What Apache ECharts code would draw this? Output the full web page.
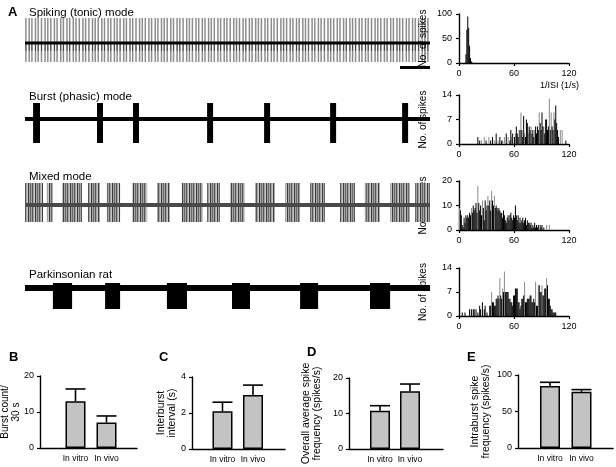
<!DOCTYPE html>
<html><head><meta charset="utf-8">
<script src="https://cdn.jsdelivr.net/npm/echarts@6.0.0/dist/echarts.min.js"></script>
<style>html,body{margin:0;padding:0;background:#fff}#c{width:616px;height:467px}</style>
</head><body><div id="c"></div>
<script>
const FONT = '"Liberation Sans", Arial, Helvetica, sans-serif';

// ---------- Panel A: traces (time in s, 1 s scale bar) ----------
const tonicSpikes = [0.03,0.14,0.23,0.35,0.44,0.55,0.67,0.76,0.86,0.98,1.07,1.19,1.28,1.40,1.49,1.61,1.70,1.81,1.93,2.02,2.13,2.25,2.34,2.44,2.56,2.65,2.77,2.86,2.98,3.07,3.17,3.29,3.38,3.50,3.59,3.70,3.82,3.91,4.01,4.13,4.22,4.34,4.43,4.55,4.64,4.74,4.86,4.95,5.07,5.16,5.27,5.39,5.48,5.58,5.70,5.79,5.91,6.00,6.12,6.21,6.31,6.43,6.52,6.64,6.73,6.84,6.96,7.05,7.15,7.27,7.36,7.48,7.57,7.69,7.78,7.88,8.00,8.09,8.21,8.30,8.41,8.53,8.62,8.72,8.84,8.93,9.05,9.14,9.26,9.35,9.45,9.57,9.66,9.78,9.87,9.98,10.10,10.19,10.29,10.41,10.50,10.62,10.71,10.83,10.92,11.02,11.14,11.23,11.35,11.44,11.55,11.67,11.76,11.86,11.98,12.07,12.19,12.28,12.40,12.49,12.59,12.71,12.80,12.92,13.01,13.12,13.24,13.33,13.43];
const burstEpisodes = [[0.27,0.5],[2.4,2.6],[3.6,3.8],[6.07,6.27],[7.97,8.17],[10.17,10.37],[12.57,12.77]];
const mixedEpisodes = [[0,0.6],[0.73,0.93],[1.23,1.9],[2.1,2.5],[2.73,3.17],[3.57,4.07],[4.4,4.83],[5.23,5.93],[6.07,6.5],[6.83,7.33],[7.67,8.33],[8.67,9.17],[9.5,10],[10.5,11],[11.33,11.83],[12.17,12.83],[13,13.5]];
const parkEpisodes = [[0.93,1.57],[2.67,3.17],[4.73,5.4],[6.9,7.5],[9.17,9.77],[11.5,12.17]];
const traceSpan = [0, 13.5];
const scaleBar = [12.5, 13.5];
const traceTitles = ['Spiking (tonic) mode','Burst (phasic) mode','Mixed mode','Parkinsonian rat'];

// ---------- Panel A: 1/ISI histograms ([bin, count]) ----------
const histTicks = [0, 60, 120];
const histXName = '1/ISI (1/s)';
const histTonicBlack = [[7,18],[8,68],[9,95],[10,72],[11,35],[12,10],[13,3],[14,1]];
const histTonicGray = [[6,2]];
const histBurstBlack = [[20,2],[22,1],[29,1],[34,1],[36,2],[40,3],[44,2],[46,1],[51,3],[55,1],[56,4],[58,3],[60,2],[62,5],[63,3],[64,2],[66,4],[68,4],[69,2],[70,8],[72,2],[73,7],[74,6],[76,5],[77,4],[79,3],[80,4],[81,2],[83,5],[84,3],[85,5],[86,4],[88,6],[89,4],[90,9],[91,5],[93,3],[94,7],[95,7],[96,4],[97,5],[99,4],[101,5],[102,4],[104,7],[105,11],[106,6],[107,4],[108,2],[116,1]];
const histBurstGray = [[24,1],[27,2],[32,2],[38,1],[42,1],[47,1],[49,2],[53,2],[57,2],[61,3],[65,4],[67,9],[71,3],[75,3],[78,5],[82,4],[87,9],[92,5],[98,13],[100,9],[103,9],[110,4],[112,4]];
const histMixedBlack = [[1,8],[2,6],[3,2],[4,1],[5,5],[6,3],[7,6],[8,5],[9,6],[10,5],[11,7],[12,6],[14,7],[15,10],[16,8],[17,9],[18,11],[19,7],[21,11],[22,8],[23,10],[24,6],[26,9],[27,4],[28,12],[29,8],[30,10],[32,10],[33,12],[34,8],[36,12],[37,10],[39,9],[40,10],[41,9],[42,8],[43,9],[44,8],[45,7],[46,7],[47,5],[48,8],[49,6],[50,4],[51,3],[52,5],[53,6],[54,4],[55,6],[56,7],[57,5],[58,4],[59,6],[60,5],[61,10],[62,6],[63,4],[64,6],[65,3],[66,5],[67,3],[68,4],[69,5],[70,3],[71,4],[72,5],[73,2],[74,4],[75,3],[76,3],[77,2],[78,3],[79,1],[80,2],[81,1],[82,3],[83,1],[84,2],[85,1],[86,2],[88,2],[89,1],[90,2],[92,1]];
const histMixedGray = [[0,9],[13,9],[20,18],[25,12],[31,14],[35,16],[38,14],[95,2],[98,2]];
const histParkBlack = [[3,1],[6,1],[11,2],[13,2],[15,2],[16,2],[18,2],[20,1],[22,3],[23,2],[25,4],[27,2],[28,3],[30,1],[33,3],[34,3],[36,4],[37,4],[38,3],[39,3],[40,5],[41,5],[42,6],[43,5],[45,6],[46,5],[48,7],[50,7],[51,7],[52,7],[53,7],[54,5],[55,5],[56,4],[57,4],[58,3],[59,6],[60,6],[61,8],[62,8],[63,8],[64,4],[65,4],[66,2],[67,3],[68,5],[69,5],[70,6],[72,4],[73,4],[74,5],[75,5],[76,5],[77,6],[78,6],[79,4],[80,4],[81,5],[82,4],[84,3],[85,3],[87,9],[88,7],[89,7],[91,6],[92,6],[93,8],[94,8],[96,9],[97,5],[98,5],[99,3],[100,2],[101,2],[102,1],[103,1],[104,1],[105,1]];
const histParkGray = [[35,7],[44,11],[47,8],[49,13],[71,10],[83,10],[86,9],[90,9],[95,11]];
const histMax = [100, 14, 20, 14];
const histInterval = [50, 7, 10, 7];

// ---------- Panels B–E: bar charts ----------
const barCategories = ['In vitro', 'In vivo'];
const burstCount = [13.0, 7.1],   burstCountErr = [16.4, 8.9];
const interburst = [2.1, 3.0],    interburstErr = [2.6, 3.55];
const overallFreq = [10.8, 16.3], overallFreqErr = [12.2, 18.3];
const intraFreq = [85, 77],       intraFreqErr = [90, 80];

// ---------- layout ----------
const traceGrids = [
  {top:18, height:44, min:-19, max:25},
  {top:102, height:42, min:-25, max:17},
  {top:183, height:39, min:-17, max:22},
  {top:280, height:36, min:-28, max:8}
];
const histGrids = [{top:14,height:49},{top:95,height:49},{top:181,height:49},{top:268,height:48}];
const barPanels = [
  {left:40, width:97, top:376, height:72, xmin:-1.145, xmax:1.984, ymax:20, interval:10, vals:burstCount, errs:burstCountErr, name:'Burst count/\n30 s', gap:18, fs:10, letter:'B', lx:4, ly:346},
  {left:192, width:93, top:377, height:72, xmin:-1.0, xmax:2.05, ymax:4, interval:2, vals:interburst, errs:interburstErr, name:'Interburst\ninterval (s)', gap:14, fs:10.5, letter:'C', lx:154, ly:346},
  {left:349, width:94, top:378, height:71, xmin:-1.033, xmax:2.1, ymax:20, interval:10, vals:overallFreq, errs:overallFreqErr, name:'Overall average spike\nfrequency (spikes/s)', gap:26, fs:10.5, letter:'D', lx:302, ly:341},
  {left:518, width:95, top:375, height:73, xmin:-1.016, xmax:2.0, ymax:100, interval:50, vals:intraFreq, errs:intraFreqErr, name:'Intraburst spike\nfrequency (spikes/s)', gap:26, fs:10.5, letter:'E', lx:462, ly:346}
];

const grid = [], xAxis = [], yAxis = [], series = [], title = [];
const axisLine = {show:true, onZero:false, lineStyle:{color:'#000', width:1.4}};
const lbl = {color:'#000', fontFamily:FONT, fontSize:9};

function stripePattern(){
  const c = document.createElement('canvas'); c.width = 7; c.height = 4;
  const ctx = c.getContext('2d');
  ctx.fillStyle = '#a4a4a4'; ctx.fillRect(0,0,7,4);
  ctx.fillStyle = '#3c3c3c'; ctx.fillRect(0,0,1,4);
  ctx.fillStyle = '#6a6a6a'; ctx.fillRect(2,0,1,4);
  ctx.fillStyle = '#555555'; ctx.fillRect(4,0,1,4);
  ctx.fillStyle = '#c6c6c6'; ctx.fillRect(6,0,1,4);
  return {image:c, repeat:'repeat'};
}
const mixedFill = stripePattern();

title.push({text:'A', left:3, top:1, textStyle:{fontFamily:FONT, fontSize:13, fontWeight:'bold', color:'#000'}});
traceTitles.forEach((t,i)=>{
  const tops=[2,86,166,264];
  title.push({text:t, left:24, top:tops[i], textStyle:{fontFamily:FONT, fontSize:11.5, fontWeight:'normal', color:'#000'}});
});
title.push({text:histXName, left:535, top:76, textStyle:{fontFamily:FONT, fontSize:9, fontWeight:'normal', color:'#000'}});

function segRender(lo, hi, color, w){ return (params, api) => {
  const t = api.value(0); const a = api.coord([t, lo]), b = api.coord([t, hi]);
  return {type:'line', shape:{x1:a[0],y1:a[1],x2:b[0],y2:b[1]}, style:{stroke:color, lineWidth:w}};
};}
function episodeRender(lo, hi, fill){ return (params, api) => {
  const a = api.coord([api.value(0), hi]), b = api.coord([api.value(1), lo]);
  return {type:'rect', shape:{x:a[0], y:a[1], width:b[0]-a[0], height:b[1]-a[1]}, style:{fill:fill}};
};}
function histRender(color){ return (params, api) => {
  const bn = api.value(0), n = api.value(1);
  const p0 = api.coord([bn, 0]), p1 = api.coord([bn+1, n]);
  return {type:'rect', shape:{x:p0[0], y:p1[1], width:Math.max(p1[0]-p0[0],1), height:p0[1]-p1[1]}, style:{fill:color}};
};}
function errRender(params, api){
  const x = api.value(0), v = api.value(1), e = api.value(2);
  const p0 = api.coord([x, v]), p1 = api.coord([x, e]); const hw = 10;
  return {type:'group', children:[
    {type:'line', shape:{x1:p0[0],y1:p0[1],x2:p1[0],y2:p1[1]}, style:{stroke:'#000', lineWidth:1.6}},
    {type:'line', shape:{x1:p1[0]-hw,y1:p1[1],x2:p1[0]+hw,y2:p1[1]}, style:{stroke:'#000', lineWidth:1.6}}
  ]};
}

// traces
traceGrids.forEach((g,i)=>{
  grid.push({left:25, width:405, top:g.top, height:g.height, outerBoundsMode:'none'});
  xAxis.push({type:'value', gridIndex:i, min:traceSpan[0], max:traceSpan[1], show:false});
  yAxis.push({type:'value', gridIndex:i, min:g.min, max:g.max, show:false});
});
const baseLine = [[traceSpan[0],0],[traceSpan[1],0]];
// tonic
series.push({type:'custom', xAxisIndex:0, yAxisIndex:0, data:tonicSpikes.map(t=>[t]), renderItem:segRender(-19,25,'rgba(0,0,0,0.45)',1.5)});
series.push({type:'line', xAxisIndex:0, yAxisIndex:0, data:baseLine, symbol:'none', lineStyle:{color:'#000', width:3}});
series.push({type:'custom', xAxisIndex:0, yAxisIndex:0, data:tonicSpikes.map(t=>[t]), renderItem:segRender(-8,0,'rgba(0,0,0,0.55)',1)});
series.push({type:'line', xAxisIndex:0, yAxisIndex:0, data:[[scaleBar[0],-24.5],[scaleBar[1],-24.5]], symbol:'none', clip:false, lineStyle:{color:'#000', width:3}});
// burst
series.push({type:'line', xAxisIndex:1, yAxisIndex:1, data:baseLine, symbol:'none', lineStyle:{color:'#000', width:4}});
series.push({type:'custom', xAxisIndex:1, yAxisIndex:1, data:burstEpisodes, renderItem:episodeRender(-24,16,'#000')});
// mixed
series.push({type:'line', xAxisIndex:2, yAxisIndex:2, data:baseLine, symbol:'none', lineStyle:{color:'#4a4a4a', width:4}});
series.push({type:'custom', xAxisIndex:2, yAxisIndex:2, data:mixedEpisodes, renderItem:episodeRender(-17,22,mixedFill)});
// parkinsonian
series.push({type:'line', xAxisIndex:3, yAxisIndex:3, data:baseLine, symbol:'none', lineStyle:{color:'#000', width:6}});
series.push({type:'custom', xAxisIndex:3, yAxisIndex:3, data:parkEpisodes, renderItem:episodeRender(-21,5,'#000')});

// histograms
const histSets = [[histTonicGray,histTonicBlack],[histBurstGray,histBurstBlack],[histMixedGray,histMixedBlack],[histParkGray,histParkBlack]];
histGrids.forEach((g,k)=>{
  const gi = 4+k;
  grid.push({left:459, width:110, top:g.top, height:g.height, outerBoundsMode:'none'});
  xAxis.push({type:'value', gridIndex:gi, min:histTicks[0], max:histTicks[2], interval:histTicks[1]-histTicks[0],
    axisLine, axisTick:{show:true, length:3, lineStyle:{color:'#000', width:1.2}}, splitLine:{show:false},
    axisLabel:{...lbl, margin:6}});
  yAxis.push({type:'value', gridIndex:gi, min:0, max:histMax[k], interval:histInterval[k],
    axisLine, axisTick:{show:true, length:3, lineStyle:{color:'#000', width:1.2}}, splitLine:{show:false},
    axisLabel:{...lbl, margin:7},
    name:'No. of spikes', nameLocation:'middle', nameRotate:90, nameGap:31, nameMoveOverlap:false,
    nameTextStyle:{fontFamily:FONT, fontSize:10, color:'#000'}});
  series.push({type:'custom', xAxisIndex:gi, yAxisIndex:gi, data:histSets[k][0], renderItem:histRender('#8a8a8a')});
  series.push({type:'custom', xAxisIndex:gi, yAxisIndex:gi, data:histSets[k][1], renderItem:histRender('#000')});
});

// bar panels
barPanels.forEach((p,k)=>{
  const gi = 8+k;
  grid.push({left:p.left, width:p.width, top:p.top, height:p.height, outerBoundsMode:'none'});
  xAxis.push({type:'value', gridIndex:gi, min:p.xmin, max:p.xmax, axisLine, axisTick:{show:false}, splitLine:{show:false},
    axisLabel:{...lbl, fontSize:8.5, margin:6, customValues:[0,1], formatter:v=>barCategories[Math.round(v)]}});
  yAxis.push({type:'value', gridIndex:gi, min:0, max:p.ymax, interval:p.interval, axisLine,
    axisTick:{show:true, length:3, lineStyle:{color:'#000', width:1.2}}, splitLine:{show:false},
    axisLabel:{...lbl, margin:6},
    name:p.name, nameLocation:'middle', nameRotate:90, nameGap:p.gap, nameMoveOverlap:false,
    nameTextStyle:{fontFamily:FONT, fontSize:p.fs, color:'#000', lineHeight:11.5}});
  series.push({type:'bar', xAxisIndex:gi, yAxisIndex:gi, barWidth:20, data:p.vals.map((v,i)=>[i,v]),
    itemStyle:{color:'#c3c3c3', borderColor:'#000', borderWidth:1.5}});
  series.push({type:'custom', xAxisIndex:gi, yAxisIndex:gi, data:p.vals.map((v,i)=>[i,v,p.errs[i]]), renderItem:errRender, z:1});
  title.push({text:p.letter, left:p.lx, top:p.ly, textStyle:{fontFamily:FONT, fontSize:13, fontWeight:'bold', color:'#000'}});
});

const chart = echarts.init(document.getElementById('c'), null, {renderer:'canvas'});
chart.setOption({animation:false, backgroundColor:'#fff', title, grid, xAxis, yAxis, series});
</script></body></html>
